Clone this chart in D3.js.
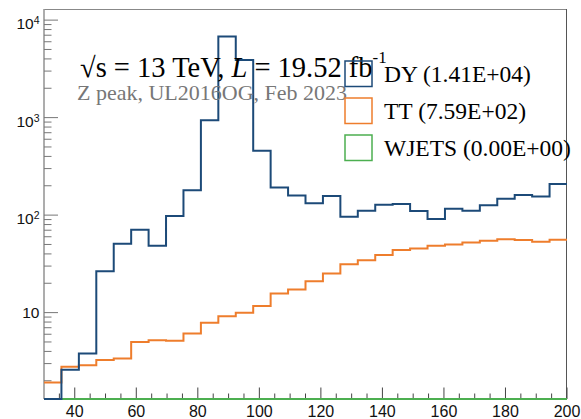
<!DOCTYPE html>
<html>
<head>
<meta charset="utf-8">
<script src="https://cdn.jsdelivr.net/npm/d3@7"></script>
<style>
  body { margin: 0; background: #fff; }
  svg { display: block; }
</style>
</head>
<body>
<svg width="581" height="419"></svg>
<script>
// binning of the histograms
const xMin = 30, xMax = 200, nBins = 30;

// bin contents
const dyValues = [0, 2.6, 3.8, 26.6, 50.8, 70.6, 48.4, 97.7, 180, 942,
  6800, 3890, 456, 192, 159, 132, 157, 96, 111, 128,
  130, 110, 91, 116, 111, 126, 147, 161, 155, 208];
const ttValues = [1.92, 2.78, 2.89, 3.26, 3.39, 5.01, 5.22, 5.14, 6.12, 7.85,
  9.2, 9.95, 11.7, 15.7, 17.3, 21, 25.2, 31.4, 34.5, 38.9,
  43.8, 45.5, 48.4, 50, 52.5, 54.5, 56.7, 55.4, 53.3, 55.8];
const wjetsValues = [0, 0, 0, 0, 0, 0, 0, 0, 0, 0,
  0, 0, 0, 0, 0, 0, 0, 0, 0, 0,
  0, 0, 0, 0, 0, 0, 0, 0, 0, 0];

const seriesNames = ['DY', 'TT', 'WJETS'];
const legendLabels = ['DY (1.41E+04)', 'TT (7.59E+02)', 'WJETS (0.00E+00)'];
const xTickMajor = [40, 60, 80, 100, 120, 140, 160, 180, 200];
const yTickMajor = [10, 100, 1000, 10000];

const svg = d3.select('svg');
const width = +svg.attr('width');
const height = +svg.attr('height');

const margin = { top: 9, right: 14, bottom: 20, left: 44 };

const xScale = d3.scaleLinear()
  .domain([xMin, xMax])
  .range([margin.left, width - margin.right]);

const yScale = d3.scaleLog()
  .domain([1.3, 13000])
  .range([height - margin.bottom, margin.top])
  .clamp(true);

const colors = { DY: '#1c4a78', TT: '#ee7d2c', WJETS: '#4caf50' };

const edges = d3.range(nBins + 1).map(i => xMin + i * (xMax - xMin) / nBins);

const g = svg.append('g');

// frame
g.append('line')
  .attr('x1', xScale(xMin)).attr('x2', xScale(xMax))
  .attr('y1', yScale.range()[1] + 0.5).attr('y2', yScale.range()[1] + 0.5)
  .attr('stroke', '#888').attr('stroke-width', 1);
g.append('line')
  .attr('x1', xScale(xMax) - 0.5).attr('x2', xScale(xMax) - 0.5)
  .attr('y1', yScale.range()[1]).attr('y2', yScale.range()[0])
  .attr('stroke', '#555').attr('stroke-width', 1);

// x axis ticks (inside)
const xMinor = d3.range(35, 200, 5).filter(v => !xTickMajor.includes(v));
const y0 = yScale.range()[0];
g.selectAll('.xminor').data(xMinor).enter().append('line')
  .attr('x1', d => xScale(d)).attr('x2', d => xScale(d))
  .attr('y1', y0).attr('y2', y0 - 5.5)
  .attr('stroke', '#444').attr('stroke-width', 1);
g.selectAll('.xmajor').data(xTickMajor).enter().append('line')
  .attr('x1', d => xScale(d)).attr('x2', d => xScale(d))
  .attr('y1', y0).attr('y2', y0 - 11.5)
  .attr('stroke', '#444').attr('stroke-width', 1);
g.selectAll('.xlab').data(xTickMajor).enter().append('text')
  .attr('x', d => xScale(d))
  .attr('y', 417)
  .attr('text-anchor', 'middle')
  .attr('font-family', 'Liberation Sans, Arial, sans-serif')
  .attr('font-size', 16)
  .attr('fill', '#111')
  .text(d => d);

// y axis
const x0 = xScale(xMin);
g.append('line')
  .attr('x1', x0).attr('x2', x0)
  .attr('y1', yScale.range()[1]).attr('y2', yScale.range()[0])
  .attr('stroke', '#999').attr('stroke-width', 1.6);

const yMinor = [];
[1, 10, 100, 1000].forEach(dec => {
  [2, 3, 4, 5, 6, 7, 8, 9].forEach(m => {
    const v = dec * m;
    if (v > yScale.domain()[0] && v < yScale.domain()[1]) yMinor.push(v);
  });
});
g.selectAll('.yminor').data(yMinor).enter().append('line')
  .attr('x1', x0).attr('x2', x0 + 7.5)
  .attr('y1', d => yScale(d)).attr('y2', d => yScale(d))
  .attr('stroke', '#777').attr('stroke-width', 1);
g.selectAll('.ymajor').data(yTickMajor).enter().append('line')
  .attr('x1', x0).attr('x2', x0 + 14)
  .attr('y1', d => yScale(d)).attr('y2', d => yScale(d))
  .attr('stroke', '#777').attr('stroke-width', 1);

const ylab = g.selectAll('.ylab').data(yTickMajor).enter().append('text')
  .attr('x', 39.5)
  .attr('y', d => yScale(d) + (d === 10 ? 5.8 : 9))
  .attr('text-anchor', 'end')
  .attr('font-family', 'Liberation Sans, Arial, sans-serif')
  .attr('font-size', 15.5)
  .attr('fill', '#111');
ylab.append('tspan').text('10');
ylab.filter(d => d !== 10).append('tspan')
  .attr('font-size', 10.5)
  .attr('dy', -5)
  .text(d => Math.round(Math.log10(d)));

// histograms
const stepPoints = vals => {
  const pts = [];
  vals.forEach((v, i) => {
    pts.push([edges[i], v]);
    pts.push([edges[i + 1], v]);
  });
  return pts;
};

const line = d3.line()
  .x(d => xScale(d[0]))
  .y(d => yScale(Math.max(d[1], 1e-3)));

const series = [
  { name: 'WJETS', values: wjetsValues },
  { name: 'TT', values: ttValues },
  { name: 'DY', values: dyValues }
];

g.selectAll('.hist').data(series).enter().append('path')
  .attr('class', 'hist')
  .attr('d', d => line(stepPoints(d.values)))
  .attr('fill', 'none')
  .attr('stroke', d => colors[d.name])
  .attr('stroke-width', 2);

// header texts
const head = svg.append('text')
  .attr('x', 80)
  .attr('y', 77)
  .attr('font-family', 'Liberation Serif, Times New Roman, serif')
  .attr('font-size', 28.5)
  .attr('fill', '#000');
head.append('tspan').text('\u221As = 13 TeV, ');
head.append('tspan').attr('font-style', 'italic').text('L');
head.append('tspan').text(' = 19.52 fb');
head.append('tspan').attr('font-size', 17).attr('dy', -14).text('-1');

svg.append('text')
  .attr('x', 77)
  .attr('y', 100)
  .attr('font-family', 'Liberation Serif, Times New Roman, serif')
  .attr('font-size', 22)
  .attr('fill', '#777')
  .text('Z peak, UL2016OG, Feb 2023');

// legend
const legend = svg.append('g')
  .attr('transform', 'translate(345,61)');
const item = legend.selectAll('g').data(seriesNames).enter().append('g')
  .attr('transform', (d, i) => `translate(0,${i * 37})`);
item.append('rect')
  .attr('x', 0).attr('y', 0)
  .attr('width', 27).attr('height', 25.5)
  .attr('fill', 'none')
  .attr('stroke', d => colors[d])
  .attr('stroke-width', 1.5);
item.append('text')
  .attr('x', 39)
  .attr('y', 21)
  .attr('font-family', 'Liberation Serif, Times New Roman, serif')
  .attr('font-size', 23.5)
  .attr('fill', '#000')
  .text((d, i) => legendLabels[i]);
</script>
</body>
</html>
